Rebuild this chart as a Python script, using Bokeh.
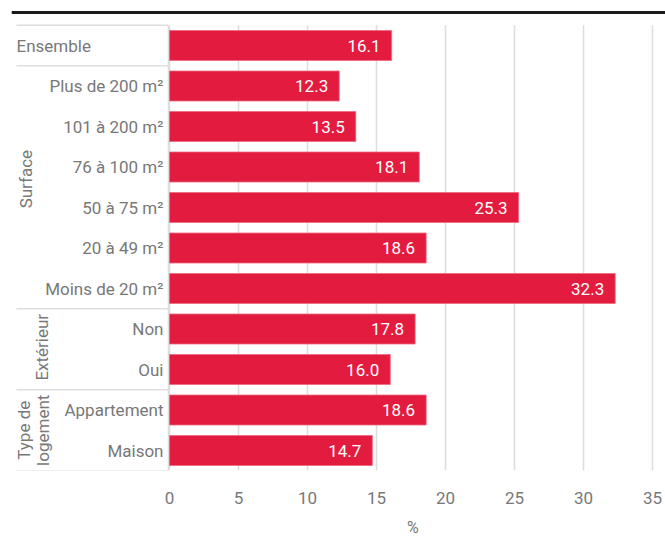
from bokeh.plotting import figure
from bokeh.models import Range1d, FixedTicker, Span, ColumnDataSource, Title
from bokeh.core.properties import value
from bokeh.embed import file_html
from bokeh.resources import INLINE
import math

categories = ["Ensemble", "Plus de 200 m²", "101 à 200 m²", "76 à 100 m²", "50 à 75 m²",
              "20 à 49 m²", "Moins de 20 m²", "Non", "Oui", "Appartement", "Maison"]
values = [16.1, 12.3, 13.5, 18.1, 25.3, 18.6, 32.3, 17.8, 16.0, 18.6, 14.7]
value_labels = ["16.1", "12.3", "13.5", "18.1", "25.3", "18.6", "32.3", "17.8", "16.0", "18.6", "14.7"]
groups = [("Surface", 1, 6), ("Extérieur", 7, 8), ("Type de\nlogement", 9, 10)]
x_ticks = [0, 5, 10, 15, 20, 25, 30, 35]
x_axis_label = "%"

FONT = "Roboto"
GREY = "#787878"
LINE = "#dedede"
RED = "#e31c3f"
FS = "17px"

# geometry (pixels)
W, H = 665, 547
frame_left, frame_right = 11, 665
frame_top, frame_bottom = 10, 470
x0_px, pxu = 169.0, 13.8
row0_px, row_px = 45.0, 40.5

x_start = (frame_left - x0_px) / pxu
x_end = (frame_right - x0_px) / pxu
y_top = (frame_top - row0_px) / row_px
y_bot = (frame_bottom - row0_px) / row_px

p = figure(width=W, height=H, output_backend="svg", toolbar_location=None,
           x_range=Range1d(x_start, x_end), y_range=Range1d(y_bot, y_top),
           min_border_left=frame_left, min_border_right=W - frame_right,
           min_border_top=frame_top, min_border_bottom=H - frame_bottom,
           outline_line_color=None)
p.yaxis.visible = False
p.xgrid.visible = False
p.ygrid.visible = False

p.xaxis.ticker = FixedTicker(ticks=x_ticks)
p.xaxis.axis_line_color = None
p.xaxis.major_tick_line_color = None
p.xaxis.minor_tick_line_color = None
p.xaxis.major_label_text_font = FONT
p.xaxis.major_label_text_font_size = FS
p.xaxis.major_label_text_color = GREY
p.xaxis.major_label_standoff = 15

n = len(categories)
ys = list(range(n))
top_edge = -0.5
bot_edge = n - 0.5

# axis title centred under the 0..35 scale (placed as a title below the axis)
mid_px = x0_px + pxu * (x_ticks[0] + x_ticks[-1]) / 2
p.add_layout(Title(text=x_axis_label, align="left", offset=mid_px - frame_left - 4,
                   text_font=FONT, text_font_size="16px", text_font_style="normal",
                   text_color=GREY, standoff=18), "below")

# gridlines
p.segment(x0=x_ticks, x1=x_ticks, y0=[top_edge] * len(x_ticks), y1=[bot_edge] * len(x_ticks),
          line_color=LINE, line_width=1.6)

# top black rule
p.add_layout(Span(location=(12 - row0_px) / row_px, dimension="width",
                  line_color="#1a1a1a", line_width=3))

# label panel lines
panel_left = (16 - x0_px) / pxu
panel_right = (168 - x0_px) / pxu
hl = [top_edge, 0.5] + [g[2] + 0.5 for g in groups]
p.segment(x0=[panel_left] * len(hl), x1=[panel_right] * len(hl), y0=hl, y1=hl,
          line_color=LINE, line_width=1.6)
p.segment(x0=[panel_right], x1=[panel_right], y0=[top_edge], y1=[bot_edge],
          line_color=LINE, line_width=1.6)

src = ColumnDataSource(dict(y=ys, v=values, lab=value_labels, cat=categories,
                            lx=[v - 0.8 for v in values]))
p.hbar(y="y", left=0, right="v", height=30 / row_px, source=src,
       fill_color=RED, line_color="#ee6a80", line_width=0.8)

p.text(x="lx", y="y", text="lab", source=src, text_color="white",
       text_font=value(FONT), text_font_size=FS, text_align="right",
       text_baseline="middle")

# category labels
cat_x = (163 - x0_px) / pxu
p.text(x=[cat_x] * (n - 1), y=ys[1:], text=categories[1:], text_color=GREY,
       text_font=value(FONT), text_font_size=FS, text_align="right",
       text_baseline="middle")
p.text(x=[(16 - x0_px) / pxu], y=[0], text=[categories[0]], text_color=GREY,
       text_font=value(FONT), text_font_size=FS, text_align="left",
       text_baseline="middle")

# group labels (rotated)
g_x = [(25 - x0_px) / pxu, (41 - x0_px) / pxu, (33 - x0_px) / pxu]
offsets = [-0.2, -0.05, 0.0]
gx, gy, gt = [], [], []
for (name, a, b), xx, off in zip(groups, g_x, offsets):
    gx.append(xx)
    gy.append((a + b) / 2 + off)
    gt.append(name)
p.text(x=gx, y=gy, text=gt, angle=math.pi / 2, text_color=GREY,
       text_font=value(FONT), text_font_size=FS, text_align="center",
       text_baseline="middle", text_line_height=0.95)

open("out.html", "w").write(file_html(p, INLINE))
